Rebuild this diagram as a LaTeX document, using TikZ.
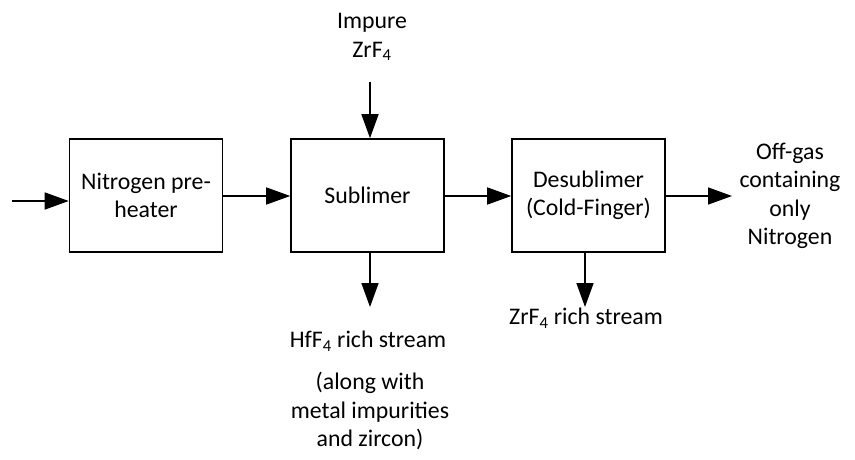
\documentclass[tikz,border=0pt]{standalone}
\usepackage{fontspec}
\setmainfont{Carlito}
\usetikzlibrary{arrows.meta}
\begin{document}
\begin{tikzpicture}[x=1pt,y=-1pt,
  every node/.style={font=\fontsize{23.8}{28.5}\selectfont, inner sep=0pt, align=center},
  procbox/.style={draw, line width=1.6pt, minimum width=153pt, minimum height=113pt},
  flow/.style={line width=1.6pt, -{Triangle[length=24pt,width=17pt]}}]
\useasboundingbox (0,0) rectangle (855,460);
\node[procbox] (pre) at (146,195.5) {Nitrogen pre-\\heater};
\node[procbox] (sub) at (367.5,195.5) {Sublimer};
\node[procbox] (des) at (588.5,195.5) {Desublimer\\(Cold-Finger)};
\node (imp) at (372,37) {Impure\\ZrF\textsubscript{4}};
\node (off) at (790,196) {Off-gas\\containing\\only\\Nitrogen};
\node (hf) at (368,341) {HfF\textsubscript{4} rich stream};
\node (along) at (370,411) {(along with\\metal impurities\\and zircon)};
\node (zr) at (586,318) {ZrF\textsubscript{4} rich stream};
\coordinate (in) at (12,201);
\coordinate (zin) at (370,82);
\coordinate (offend) at (732,196);
\coordinate (hfend) at (370,307);
\coordinate (zrend) at (585,307);
\draw[flow] (in) -- (in -| pre.west);
\draw[flow] (pre.east |- 0,196) -- (sub.west |- 0,196);
\draw[flow] (sub.east |- 0,196) -- (des.west |- 0,196);
\draw[flow] (zin) -- (zin |- sub.north);
\draw[flow] (des.east |- offend) -- (offend);
\draw[flow] (hfend |- sub.south) -- (hfend);
\draw[flow] (zrend |- des.south) -- (zrend);
\end{tikzpicture}
\end{document}
